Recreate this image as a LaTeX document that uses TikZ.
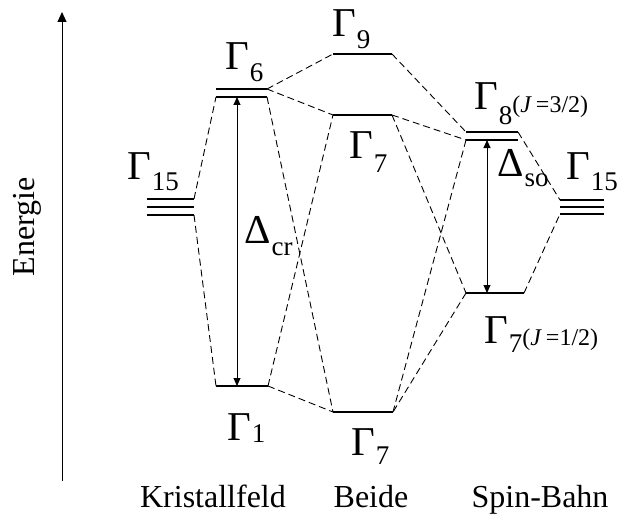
\documentclass[tikz,border=0pt]{standalone}
\usepackage{fontspec}
\setmainfont{Liberation Serif}
\usetikzlibrary{arrows.meta}
\newcommand{\lvG}[3]{{\fontsize{41}{41}\selectfont #1}\kern1pt\raisebox{-#2pt}{\fontsize{27}{27}\selectfont #3}}
\begin{document}
\begin{tikzpicture}[x=1pt,y=-1pt,
  level/.style={line width=2.6pt},
  link/.style={line width=0.9pt, dash pattern=on 7pt off 4pt},
  gaparrow/.style={line width=0.9pt, {Triangle[length=8pt,width=7pt]}-{Triangle[length=8pt,width=7pt]}},
  lbl/.style={inner sep=0pt, anchor=base west},
  caption/.style={inner sep=0pt, anchor=base, font=\fontsize{32}{32}\selectfont}]
\useasboundingbox (0,0) rectangle (631,516);
% energy axis
\coordinate (eb) at (62,481);
\coordinate (et) at (62,12);
\draw[line width=0.9pt, -{Triangle[length=10pt,width=9pt]}] (eb) -- (et);
\node[inner sep=0pt, rotate=90, font=\fontsize{32}{32}\selectfont] (energie) at (27,227) {Energie};
% levels
\coordinate (l15aL) at (147,199); \coordinate (l15aR) at (194,199);
\coordinate (l15bL) at (147,207); \coordinate (l15bR) at (194,207);
\coordinate (l15cL) at (147,215); \coordinate (l15cR) at (194,215);
\coordinate (g6aL) at (216,89); \coordinate (g6aR) at (267,89);
\coordinate (g6bL) at (216,97); \coordinate (g6bR) at (267,97);
\coordinate (g1L) at (216,386); \coordinate (g1R) at (268,386);
\coordinate (g9L) at (333,54); \coordinate (g9R) at (392,54);
\coordinate (g7uL) at (333,115); \coordinate (g7uR) at (392,115);
\coordinate (g7lL) at (333,412); \coordinate (g7lR) at (393,412);
\coordinate (g8aL) at (466,132); \coordinate (g8aR) at (518,132);
\coordinate (g8bL) at (466,140); \coordinate (g8bR) at (518,140);
\coordinate (g7jL) at (466,293); \coordinate (g7jR) at (524,293);
\coordinate (r15aL) at (560,200); \coordinate (r15aR) at (604,200);
\coordinate (r15bL) at (560,207); \coordinate (r15bR) at (604,207);
\coordinate (r15cL) at (560,214); \coordinate (r15cR) at (604,214);
\foreach \a/\b in {l15aL/l15aR,l15bL/l15bR,l15cL/l15cR,g6aL/g6aR,g6bL/g6bR,g1L/g1R,
  g9L/g9R,g7uL/g7uR,g7lL/g7lR,g8aL/g8aR,g8bL/g8bR,g7jL/g7jR,r15aL/r15aR,r15bL/r15bR,r15cL/r15cR}
  \draw[level] (\a) -- (\b);
% dashed links
\draw[link] (l15aR) -- (g6bL);
\draw[link] (l15cR) -- (g1L);
\draw[link] (g6aR) -- (g9L);
\draw[link] (g6aR) -- (g7uL);
\draw[link] (g6bR) -- (g7lL);
\draw[link] (g1R) -- (g7uL);
\draw[link] (g1R) -- (g7lL);
\draw[link] (g9R) -- (g8aL);
\draw[link] (g7uR) -- (g8bL);
\draw[link] (g7uR) -- (g7jL);
\draw[link] (g8bL) -- (g7lR);
\draw[link] (g7jL) -- (g7lR);
\draw[link] (g8aR) -- (r15aL);
\draw[link] (g7jR) -- (r15cL);
% gap arrows
\coordinate (dcrT) at (237,97); \coordinate (dcrB) at (237,386);
\coordinate (dsoT) at (487,140); \coordinate (dsoB) at (487,293);
\draw[gaparrow] (dcrT) -- (dcrB);
\draw[gaparrow] (dsoT) -- (dsoB);
% labels
\node[lbl] (t15L) at (127,179) {\lvG{Γ}{11}{15}};
\node[lbl] (t6) at (225,70) {\lvG{Γ}{12}{6}};
\node[lbl] (t9) at (332,37) {\lvG{Γ}{12}{9}};
\node[lbl] (t7u) at (349,158) {\lvG{Γ}{14}{7}};
\node[lbl] (t1) at (227,440) {\lvG{Γ}{2}{1}};
\node[lbl] (t7l) at (351,455) {\lvG{Γ}{9}{7}};
\node[lbl] (t15R) at (566,179) {\lvG{Γ}{11}{15}};
\node[lbl] (t8) at (474,110) {\lvG{Γ}{15}{8}\raisebox{-3pt}{\fontsize{24}{24}\selectfont(\textit{J}\,=3/2)}};
\node[lbl] (t7j) at (484,343) {\lvG{Γ}{9}{7}\raisebox{-2pt}{\fontsize{24}{24}\selectfont(\textit{J}\,=1/2)}};
\node[lbl] (tcr) at (244,243) {\lvG{Δ}{12}{cr}};
\node[lbl] (tso) at (497,176) {\lvG{Δ}{10}{so}};
% captions
\node[caption] (c1) at (213,507) {Kristallfeld};
\node[caption] (c2) at (371,507) {Beide};
\node[caption] (c3) at (540,507) {Spin-Bahn};
\end{tikzpicture}
\end{document}
